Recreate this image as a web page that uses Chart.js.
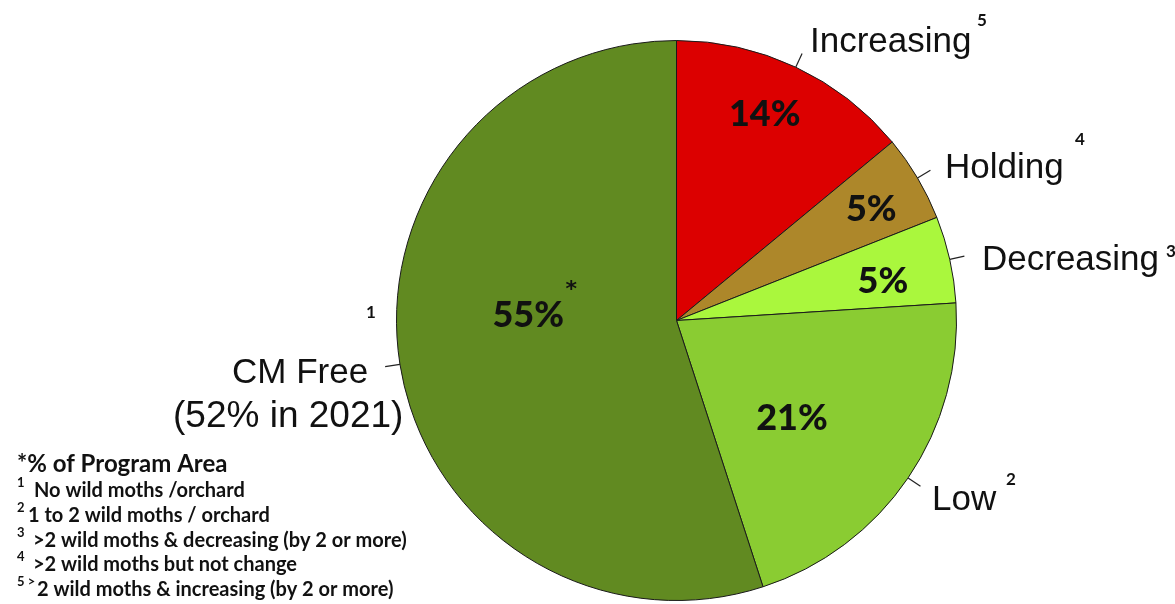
<!DOCTYPE html>
<html>
<head>
<meta charset="utf-8">
<script src="https://cdn.jsdelivr.net/npm/chart.js@4"></script>
<style>
  html, body { margin: 0; padding: 0; background: #fff; }
  #wrap { width: 1175px; height: 604px; }
</style>
</head>
<body>
<div id="wrap"><canvas id="pie"></canvas></div>
<script>
// datos del grafico (orden horario desde las 12)
const categories = ['Increasing', 'Holding', 'Decreasing', 'Low', 'CM Free'];
const shares = [14, 5, 5, 21, 55];
const pctLabels = ['14%', '5%', '5%', '21%', '55%'];
const footRefs = ['5', '4', '3', '2', '1'];
const sliceColors = ['#dc0000', '#ad872a', '#aaf73d', '#8acc32', '#618a21'];

const footTitle = '*% of Program Area';
const footNotes = [
  ['1', 'No wild moths /orchard'],
  ['2', '1 to 2 wild moths / orchard'],
  ['3', '>2 wild moths & decreasing (by 2 or more)'],
  ['4', '>2 wild moths but not change'],
  ['5 >', '2 wild moths & increasing (by 2 or more)']
];

// ajuste de posicion de los porcentajes: [desvio angulo en grados, fraccion del radio]
const pctPlace = [[-2, 0.80], [1, 0.80], [2, 0.75], [6, 0.54], [11, 0.53]];
// posicion de las etiquetas de categoria
const catPlace = [
  { x: 810, y: 52, sx: 977, sy: 26 },
  { x: 945, y: 178, sx: 1075, sy: 145 },
  { x: 982, y: 270, sx: 1166, sy: 257 },
  { x: 932, y: 510, sx: 1006, sy: 485 },
  { x: 232, y: 383, sx: 366, sy: 318 }
];
const footLeft = [34, 28, 33, 33, 37];

const labelsPlugin = {
  id: 'labels',
  afterDatasetsDraw(chart) {
    const ctx = chart.ctx;
    const arcs = chart.getDatasetMeta(0).data;
    ctx.save();
    ctx.fillStyle = '#111';
    ctx.strokeStyle = '#222';
    ctx.lineWidth = 1.2;

    arcs.forEach((arc, i) => {
      const p = arc.getProps(['x', 'y', 'startAngle', 'endAngle', 'outerRadius'], true);
      const mid = (p.startAngle + p.endAngle) / 2;

      // porcentaje dentro del sector
      const a = mid + pctPlace[i][0] * Math.PI / 180;
      const r = p.outerRadius * pctPlace[i][1];
      ctx.font = '900 36px Lato';
      ctx.textAlign = 'center';
      ctx.textBaseline = 'middle';
      ctx.fillText(pctLabels[i], p.x + Math.cos(a) * r, p.y + Math.sin(a) * r);
      if (i === 4) {
        ctx.font = 'bold 22px "DejaVu Sans"';
        ctx.fillText('*', p.x + Math.cos(a) * r + 43, p.y + Math.sin(a) * r - 25);
      }

      // linea guia
      ctx.beginPath();
      ctx.moveTo(p.x + Math.cos(mid) * p.outerRadius, p.y + Math.sin(mid) * p.outerRadius);
      ctx.lineTo(p.x + Math.cos(mid) * (p.outerRadius + 15), p.y + Math.sin(mid) * (p.outerRadius + 15));
      ctx.stroke();

      // etiqueta de categoria
      const c = catPlace[i];
      ctx.font = '35px "Liberation Sans"';
      ctx.textAlign = 'left';
      ctx.textBaseline = 'alphabetic';
      ctx.fillText(categories[i], c.x, c.y);
      if (i === 4) {
        ctx.font = '37px "Liberation Sans"';
        ctx.fillText('(52% in 2021)', 173, 427);
      }
      ctx.font = 'bold 17px Lato';
      ctx.fillText(footRefs[i], c.sx, c.sy);
    });

    // notas al pie
    ctx.textAlign = 'left';
    ctx.textBaseline = 'alphabetic';
    ctx.font = 'bold 24px Lato';
    ctx.fillText(footTitle, 17, 472);
    footNotes.forEach((n, i) => {
      const base = 497 + i * 24.8;
      ctx.font = 'bold 13px Lato';
      ctx.fillText(n[0], 17, base - 10);
      ctx.font = 'bold 20px Lato';
      ctx.fillText(n[1], footLeft[i], base);
    });
    ctx.restore();
  }
};

new Chart(document.getElementById('pie'), {
  type: 'pie',
  data: {
    labels: categories,
    datasets: [{
      data: shares,
      backgroundColor: sliceColors,
      borderColor: '#1a1a1a',
      borderWidth: 1
    }]
  },
  options: {
    responsive: true,
    maintainAspectRatio: false,
    animation: false,
    layout: { padding: { left: 396, right: 218, top: 40, bottom: 3 } },
    plugins: {
      legend: { display: false },
      tooltip: { enabled: false }
    }
  },
  plugins: [labelsPlugin]
});
</script>
</body>
</html>
